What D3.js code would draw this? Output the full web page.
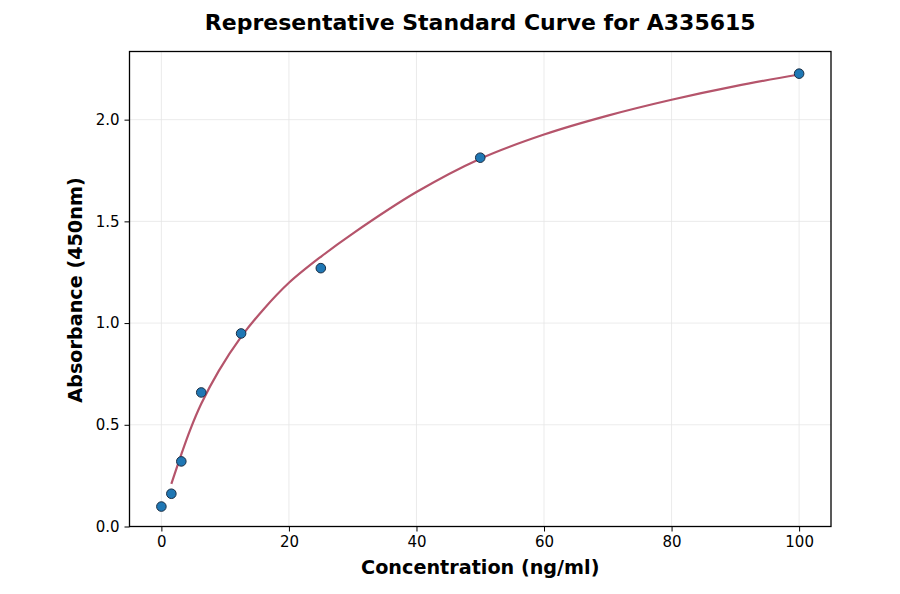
<!DOCTYPE html>
<html><head><meta charset="utf-8">
<script src="https://cdn.jsdelivr.net/npm/d3@7"></script>
<style>
html,body{margin:0;padding:0;background:#fff;}
svg{display:block;font-family:"DejaVu Sans",sans-serif;}
</style></head>
<body>
<svg id="chart" width="900" height="594"></svg>
<script>
// Standard points
const concentrations = [0, 1.5625, 3.125, 6.25, 12.5, 25, 50, 100];
const absorbances = [0.098, 0.161, 0.32, 0.659, 0.949, 1.27, 1.813, 2.226];
// Fitted curve
const curveX = [1.5625, 3.125, 4.5, 6.25, 9, 12.5, 16, 20, 25, 30, 40, 50, 60, 70, 80, 90, 100];
const curveY = [0.21, 0.355, 0.474, 0.603, 0.765, 0.932, 1.067, 1.198, 1.326, 1.44, 1.644, 1.808, 1.927, 2.02, 2.098, 2.165, 2.222];
const xTicks = [0, 20, 40, 60, 80, 100];
const yTicks = [0.0, 0.5, 1.0, 1.5, 2.0];

const svg = d3.select("#chart");
const L = 129.5, R = 831, T = 51.5, B = 526.5;
const x = d3.scaleLinear().domain([-5, 105]).range([L, R]);
const y = d3.scaleLinear().domain([0, 2.335]).range([B, T]);

// grid
svg.append("g").selectAll("line.gx").data(xTicks).join("line")
  .attr("x1", d => x(d)).attr("x2", d => x(d)).attr("y1", T).attr("y2", B)
  .attr("stroke", "#e6e6e6").attr("stroke-width", 0.8);
svg.append("g").selectAll("line.gy").data(yTicks).join("line")
  .attr("x1", L).attr("x2", R).attr("y1", d => y(d)).attr("y2", d => y(d))
  .attr("stroke", "#e6e6e6").attr("stroke-width", 0.8);

// axes
const xAxis = d3.axisBottom(x).tickValues(xTicks).tickFormat(d3.format("d")).tickSize(5).tickPadding(5);
const yAxis = d3.axisLeft(y).tickValues(yTicks).tickFormat(d3.format(".1f")).tickSize(5).tickPadding(5);
const gx = svg.append("g").attr("transform", `translate(0,${B})`).call(xAxis);
const gy = svg.append("g").attr("transform", `translate(${L},0)`).call(yAxis);
[gx, gy].forEach(g => {
  g.select(".domain").remove();
  g.selectAll("text").attr("font-family", "DejaVu Sans").attr("font-size", 15).attr("fill", "#000");
  g.selectAll("line").attr("stroke", "#000").attr("stroke-width", 1);
});

// frame
svg.append("rect").attr("x", L).attr("y", T).attr("width", R - L).attr("height", B - T)
  .attr("fill", "none").attr("stroke", "#000").attr("stroke-width", 1.3);

// curve
const pts = curveX.map((cx, i) => [cx, curveY[i]]);
svg.append("path").datum(pts)
  .attr("d", d3.line().x(d => x(d[0])).y(d => y(d[1])).curve(d3.curveCatmullRom.alpha(0.5)))
  .attr("fill", "none").attr("stroke", "#b5546b").attr("stroke-width", 2.2);

// points
svg.append("g").selectAll("circle").data(concentrations).join("circle")
  .attr("cx", d => x(d)).attr("cy", (d, i) => y(absorbances[i])).attr("r", 4.8)
  .attr("fill", "#1f77b4").attr("stroke", "#1b2e44").attr("stroke-width", 1);

// title & labels
svg.append("text").attr("x", (L + R) / 2).attr("y", 30).attr("text-anchor", "middle")
  .attr("font-size", 22).attr("font-weight", "bold").text("Representative Standard Curve for A335615");
svg.append("text").attr("x", (L + R) / 2).attr("y", 574).attr("text-anchor", "middle")
  .attr("font-size", 19.2).attr("font-weight", "bold").text("Concentration (ng/ml)");
svg.append("text").attr("transform", `translate(82,290) rotate(-90)`).attr("text-anchor", "middle")
  .attr("font-size", 19.2).attr("font-weight", "bold").text("Absorbance (450nm)");
</script>
</body></html>
